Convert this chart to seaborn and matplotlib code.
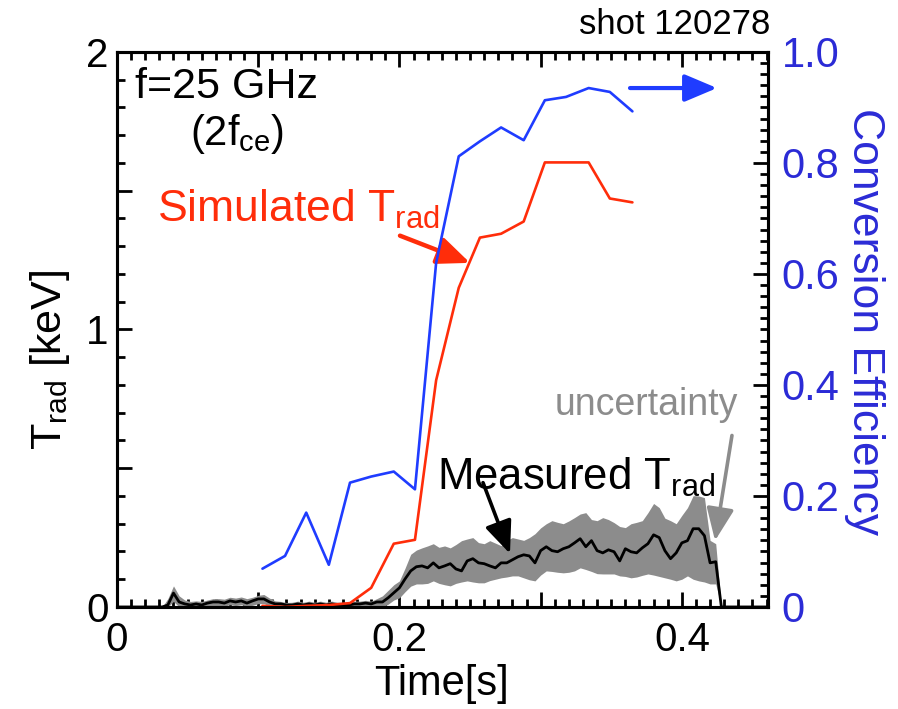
import numpy as np
import matplotlib
matplotlib.use("Agg")
import matplotlib.pyplot as plt
from matplotlib.ticker import MultipleLocator, FuncFormatter
import seaborn as sns

# ---- simulated radiation temperature and conversion efficiency ----
t_sim = [0.103, 0.119, 0.134, 0.150, 0.165, 0.180, 0.196, 0.211, 0.226,
         0.242, 0.257, 0.272, 0.288, 0.303, 0.318, 0.334, 0.349, 0.365]
eff_sim = [0.069, 0.092, 0.170, 0.076, 0.224, 0.235, 0.244, 0.212, 0.620,
           0.812, 0.839, 0.864, 0.841, 0.913, 0.919, 0.935, 0.928, 0.893]
trad_sim = [0.004, 0.000, 0.004, 0.007, 0.014, 0.069, 0.228, 0.242, 0.817,
            1.150, 1.331, 1.345, 1.389, 1.602, 1.602, 1.602, 1.472, 1.458]

# ---- measured radiation temperature (4 ms samples) with uncertainty band ----
t_meas = np.round(np.arange(116) * 0.004, 3)
trad_meas = [
    0, 0, 0, 0, 0, 0, 0, 0, 0,
    0.007, 0.050, 0.018, 0.011, 0.007, 0.011, 0.007, 0.014, 0.018, 0.018, 0.014,
    0.022, 0.018, 0.022, 0.014, 0.022, 0.029, 0.029, 0.018, 0.011, 0.011, 0.007,
    0.007, 0.011, 0.007, 0.011, 0.007, 0.011, 0.007, 0.011, 0.007, 0.007, 0.007,
    0.011, 0.011, 0.014, 0.011, 0.018,
    0.018, 0.033, 0.051, 0.069, 0.101, 0.130, 0.145, 0.148, 0.141, 0.159,
    0.141, 0.148, 0.156, 0.137, 0.130, 0.166, 0.174, 0.159, 0.156, 0.148,
    0.141, 0.159, 0.159, 0.170, 0.181, 0.188, 0.184, 0.159, 0.203, 0.217,
    0.203, 0.199, 0.210, 0.217, 0.231, 0.246, 0.217, 0.239, 0.203, 0.195,
    0.206, 0.199, 0.166, 0.210, 0.199, 0.195, 0.213, 0.228, 0.260, 0.250,
    0.203, 0.174, 0.195, 0.231, 0.239, 0.282, 0.282, 0.257, 0.159, 0.163,
    0, 0, 0, 0, 0, 0, 0, 0, 0]
trad_upper = [
    0, 0, 0, 0, 0, 0, 0, 0, 0,
    0.030, 0.076, 0.040, 0.025, 0.020, 0.022, 0.020, 0.025, 0.030, 0.030, 0.028,
    0.035, 0.032, 0.036, 0.030, 0.035, 0.042, 0.045, 0.032, 0.022, 0.020, 0.016,
    0.017, 0.021, 0.017, 0.021, 0.017, 0.021, 0.017, 0.021, 0.017, 0.017, 0.017,
    0.021, 0.021, 0.024, 0.021, 0.030,
    0.040, 0.060, 0.080, 0.094, 0.140, 0.190, 0.205, 0.213, 0.220, 0.228,
    0.215, 0.220, 0.213, 0.225, 0.239, 0.245, 0.250, 0.232, 0.228, 0.239,
    0.230, 0.221, 0.240, 0.250, 0.245, 0.240, 0.250, 0.264, 0.285, 0.300,
    0.311, 0.305, 0.300, 0.310, 0.322, 0.335, 0.340, 0.315, 0.311, 0.322,
    0.315, 0.304, 0.290, 0.286, 0.300, 0.305, 0.311, 0.340, 0.373, 0.358,
    0.320, 0.311, 0.300, 0.330, 0.358, 0.401, 0.400, 0.394, 0.240, 0.228,
    0, 0, 0, 0, 0, 0, 0, 0, 0]
trad_lower = [
    0, 0, 0, 0, 0, 0, 0, 0, 0,
    0, 0.020, 0, 0, 0, 0, 0, 0.003, 0.005, 0.005, 0.003,
    0.008, 0.005, 0.008, 0.003, 0.006, 0.012, 0.012, 0.004, 0, 0, 0,
    0, 0, 0, 0, 0, 0, 0, 0, 0, 0, 0, 0, 0, 0, 0, 0,
    0.000, 0.010, 0.025, 0.033, 0.055, 0.075, 0.083, 0.083, 0.085, 0.094,
    0.085, 0.080, 0.076, 0.085, 0.090, 0.094, 0.090, 0.087, 0.087, 0.095,
    0.100, 0.105, 0.108, 0.112, 0.112, 0.105, 0.098, 0.094, 0.115, 0.130,
    0.128, 0.125, 0.123, 0.125, 0.130, 0.141, 0.135, 0.128, 0.120, 0.119,
    0.119, 0.119, 0.112, 0.110, 0.105, 0.108, 0.114, 0.119, 0.115, 0.110,
    0.105, 0.100, 0.094, 0.100, 0.112, 0.100, 0.094, 0.090, 0.083, 0.083,
    0, 0, 0, 0, 0, 0, 0, 0, 0]

x_ticklabels = {0.0: "0", 0.2: "0.2", 0.4: "0.4"}
y_ticklabels = {0.0: "0", 1.0: "1", 2.0: "2"}

RED = "#ff2d0a"
BLUE = "#1f3cff"
BLUE_TXT = "#2b2bd6"
GRAY = "#8c8c8c"

sns.set_theme(style="ticks")
plt.rcParams["font.family"] = ["Liberation Sans", "DejaVu Sans"]
plt.rcParams["mathtext.fontset"] = "custom"
plt.rcParams["mathtext.rm"] = "Liberation Sans"
plt.rcParams["mathtext.it"] = "Liberation Sans:italic"
plt.rcParams["mathtext.default"] = "regular"

fig = plt.figure(figsize=(8.98, 7.09), dpi=100)
ax = fig.add_axes([0.1303, 0.1439, 0.7249, 0.7828])
ax2 = ax.twinx()

# measured trace with its uncertainty band
ax.fill_between(t_meas, trad_lower, trad_upper, color=GRAY,
                linewidth=0, zorder=2)
sns.lineplot(x=t_meas, y=trad_meas, ax=ax, color="black", linewidth=2.0,
             estimator=None, sort=False, zorder=3)

# simulated temperature (left axis) and conversion efficiency (right axis)
sns.lineplot(x=t_sim, y=trad_sim, ax=ax, color=RED, linewidth=1.9,
             estimator=None, sort=False, zorder=4)
sns.lineplot(x=t_sim, y=eff_sim, ax=ax2, color=BLUE, linewidth=1.9,
             estimator=None, sort=False, zorder=4)

ax.set_xlim(0, 0.461)
ax.set_ylim(0, 2.0)
ax2.set_ylim(0, 1.0)

tick_font = 29
ax.xaxis.set_major_locator(MultipleLocator(0.1))
ax.xaxis.set_minor_locator(MultipleLocator(0.01))
ax.xaxis.set_major_formatter(FuncFormatter(
    lambda v, p: x_ticklabels.get(round(v, 2), "")))
ax.yaxis.set_major_locator(MultipleLocator(0.5))
ax.yaxis.set_minor_locator(MultipleLocator(0.1))
ax.yaxis.set_major_formatter(FuncFormatter(
    lambda v, p: y_ticklabels.get(round(v, 2), "")))
ax2.yaxis.set_major_locator(MultipleLocator(0.2))
ax2.yaxis.set_minor_locator(MultipleLocator(0.02))
ax2.yaxis.set_major_formatter(FuncFormatter(
    lambda v, p: "0" if abs(v) < 1e-9 else f"{v:.1f}"))

for a in (ax, ax2):
    for s in a.spines.values():
        s.set_linewidth(2.2)
        s.set_color("black")

ax.tick_params(axis="both", which="both", direction="in", top=True,
               right=False, width=2, colors="black", labelsize=tick_font)
ax.tick_params(which="major", length=11)
ax.tick_params(which="minor", length=5.5)
ax.tick_params(axis="x", pad=10)
ax.tick_params(axis="y", pad=6)
ax2.tick_params(axis="y", which="both", direction="in", width=2,
                color="black", labelcolor=BLUE_TXT, labelsize=30, pad=10)
ax2.tick_params(axis="y", which="major", length=11)
ax2.tick_params(axis="y", which="minor", length=5.5)

# axis titles
ax.set_xlabel("Time[s]", fontsize=30, color="black")
ax.xaxis.set_label_coords(0.498, -0.139)
ax.xaxis.label.set_va("center")
ax.set_ylabel("T$_{\\rm rad}$ [keV]", fontsize=31, color="black")
ax.yaxis.label.set_rotation_mode("default")
ax.yaxis.label.set_va("center")
ax.yaxis.set_label_coords(-0.103, 0.445)
ax2.set_ylabel("Conversion Efficiency", fontsize=32, color=BLUE_TXT,
               rotation=270)
ax2.yaxis.label.set_rotation_mode("default")
ax2.yaxis.label.set_va("center")
ax2.yaxis.set_label_coords(1.148, 0.514)

# annotations
ax.text(1.003, 1.032, "shot 120278", transform=ax.transAxes, ha="right",
        va="baseline", fontsize=25, color="black")
ax.text(0.028, 0.917, "f=25 GHz", transform=ax.transAxes, ha="left",
        va="baseline", fontsize=31, color="black")
ax.text(0.112, 0.832, "(2f$_{\\rm ce}$)", transform=ax.transAxes, ha="left",
        va="baseline", fontsize=30, color="black")
ax.text(0.061, 0.694, "Simulated T$_{\\rm rad}$", transform=ax.transAxes,
        ha="left", va="baseline", fontsize=32, color=RED)
ax.text(0.492, 0.211, "Measured T$_{\\rm rad}$", transform=ax.transAxes,
        ha="left", va="baseline", fontsize=31.5, color="black")
ax.text(0.673, 0.346, "uncertainty", transform=ax.transAxes, ha="left",
        va="baseline", fontsize=27, color=GRAY)


def arrow(axis, tail, tip, color, lw):
    axis.annotate("", xy=tip, xytext=tail,
                  arrowprops=dict(arrowstyle="-|>,head_length=0.9,head_width=0.38",
                                  color=color, lw=lw, mutation_scale=22,
                                  shrinkA=0, shrinkB=0), zorder=6)


arrow(ax, (0.2004, 1.338), (0.2500, 1.240), RED, 3.2)
arrow(ax, (0.2592, 0.448), (0.2783, 0.192), "black", 2.6)
arrow(ax, (0.4355, 0.618), (0.4235, 0.239), GRAY, 2.6)
arrow(ax2, (0.3633, 0.935), (0.4249, 0.935), BLUE, 3.0)

fig.savefig("out.png", dpi=100)
